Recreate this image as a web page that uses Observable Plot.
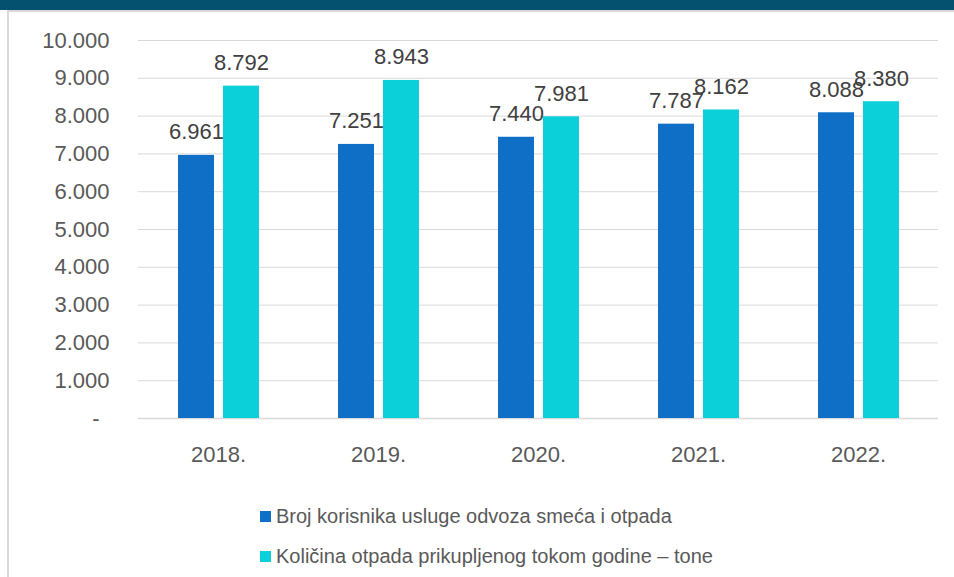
<!DOCTYPE html>
<html>
<head>
<meta charset="utf-8">
<script src="https://cdn.jsdelivr.net/npm/d3@7"></script>
<script src="https://cdn.jsdelivr.net/npm/@observablehq/plot@0.6"></script>
<style>
  html, body { margin: 0; padding: 0; background: #fff; }
  body { width: 954px; height: 577px; position: relative; overflow: hidden; font-family: "Liberation Sans", Arial, sans-serif; }
  #topbar { position: absolute; left: 0; top: 0; width: 954px; height: 10px; background: #03506f; }
  #topline { position: absolute; left: 8px; top: 10px; width: 946px; height: 2px; background: #d9d9d9; }
  #leftline { position: absolute; left: 7px; top: 10px; width: 2px; height: 567px; background: #d9d9d9; }
  #chart { position: absolute; left: 0; top: 0; }
  #legend { position: absolute; left: 260px; top: 496px; color: #595959; font-size: 20px; }
  .row { height: 40px; display: flex; align-items: center; white-space: nowrap; }
  .sw { width: 11px; height: 11px; margin-right: 5px; display: inline-block; }
</style>
</head>
<body>
<div id="topbar"></div>
<div id="topline"></div>
<div id="leftline"></div>
<div id="chart"></div>
<div id="legend"></div>
<script>
const years = ["2018.", "2019.", "2020.", "2021.", "2022."];
const seriesNames = [
  "Broj korisnika usluge odvoza smeća i otpada",
  "Količina otpada prikupljenog tokom godine – tone"
];
const korisnici = [6961, 7251, 7440, 7787, 8088];
const otpad = [8792, 8943, 7981, 8162, 8380];
const yTicks = [0, 1000, 2000, 3000, 4000, 5000, 6000, 7000, 8000, 9000, 10000];
const colors = ["#0f6fc6", "#0bd0d9"];

const loc = d3.formatLocale({decimal: ",", thousands: ".", grouping: [3], currency: ["", ""]});
const fmt = loc.format(",d");

const data = [];
years.forEach((y, i) => {
  data.push({year: y, series: seriesNames[0], value: korisnici[i]});
  data.push({year: y, series: seriesNames[1], value: otpad[i]});
});

const chart = Plot.plot({
  width: 954,
  height: 480,
  marginLeft: 138,
  marginRight: 16,
  marginTop: 40,
  marginBottom: 62,
  style: {fontFamily: "'Liberation Sans', Arial, sans-serif", fontSize: "22px", color: "#595959", background: "transparent"},
  fx: {domain: years, paddingInner: 0, paddingOuter: 0, label: null},
  x: {domain: seriesNames, paddingInner: 0.21, paddingOuter: 0.86, axis: null},
  y: {domain: [0, 10000], ticks: yTicks, label: null},
  color: {domain: seriesNames, range: colors},
  marks: [
    Plot.gridY(yTicks.filter(d => d > 0), {stroke: "#d9d9d9", strokeOpacity: 1, strokeWidth: 1}),
    Plot.ruleY([0], {stroke: "#d9d9d9", strokeWidth: 1.5}),
    Plot.axisY(yTicks.filter(d => d > 0), {tickSize: 0, tickPadding: 29, tickFormat: fmt, fontSize: 22, fill: "#595959", label: null}),
    Plot.axisY([0], {tickSize: 0, tickPadding: 39, tickFormat: () => "-", fontSize: 22, fill: "#595959", label: null}),
    Plot.axisFx({anchor: "bottom", tickSize: 0, tickPadding: 28, fontSize: 22, fill: "#595959", label: null}),
    Plot.barY(data, {fx: "year", x: "series", y: "value", fill: "series"}),
    Plot.text(data, {fx: "year", x: "series", y: "value", text: d => fmt(d.value), dy: -16, lineAnchor: "bottom", fontSize: 22, fill: "#404040"})
  ]
});
document.getElementById("chart").appendChild(chart);

const legend = document.getElementById("legend");
seriesNames.forEach((name, i) => {
  const row = document.createElement("div");
  row.className = "row";
  const sw = document.createElement("span");
  sw.className = "sw";
  sw.style.background = colors[i];
  const t = document.createElement("span");
  t.textContent = name;
  row.appendChild(sw);
  row.appendChild(t);
  legend.appendChild(row);
});
</script>
</body>
</html>
